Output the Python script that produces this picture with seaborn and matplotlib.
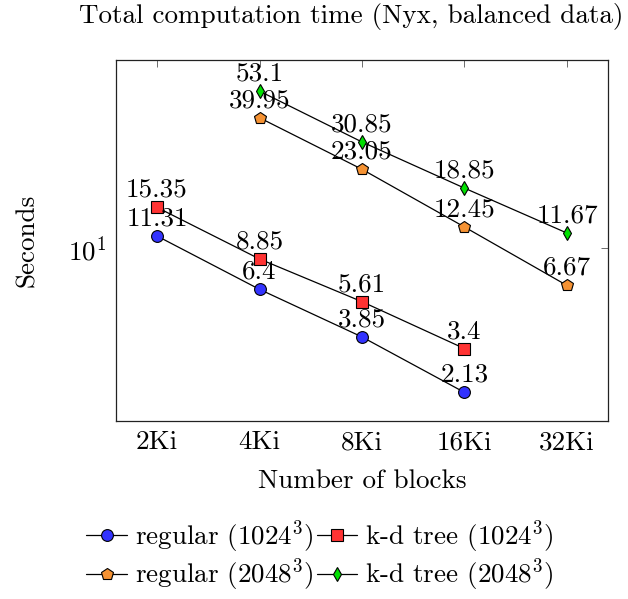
import matplotlib
matplotlib.use("Agg")
import matplotlib.pyplot as plt
import matplotlib.ticker as mticker
import seaborn as sns
import pandas as pd

categories = ["2Ki", "4Ki", "8Ki", "16Ki", "32Ki"]
reg1024_x = ["2Ki", "4Ki", "8Ki", "16Ki"]
reg1024 = [11.31, 6.4, 3.85, 2.13]
kd1024_x = ["2Ki", "4Ki", "8Ki", "16Ki"]
kd1024 = [15.35, 8.85, 5.61, 3.4]
reg2048_x = ["4Ki", "8Ki", "16Ki", "32Ki"]
reg2048 = [39.95, 23.05, 12.45, 6.67]
kd2048_x = ["4Ki", "8Ki", "16Ki", "32Ki"]
kd2048 = [53.1, 30.85, 18.85, 11.67]

series = [
    ("regular (1024$^3$)", reg1024_x, reg1024, "o", "#3333ff", 8.5),
    ("k-d tree (1024$^3$)", kd1024_x, kd1024, "s", "#ff3333", 8.5),
    ("regular (2048$^3$)", reg2048_x, reg2048, "p", "#f59233", 9),
    ("k-d tree (2048$^3$)", kd2048_x, kd2048, "d", "#00e000", 7.5),
]

FS = 19.5
sns.set_theme(style="white")
plt.rcParams.update({
    "font.family": "serif",
    "font.serif": ["cmr10", "DejaVu Serif"],
    "mathtext.fontset": "cm",
    "axes.formatter.use_mathtext": True,
    "axes.unicode_minus": False,
    "font.size": FS,
    "text.color": "black",
    "axes.labelcolor": "black",
    "xtick.color": "black",
    "ytick.color": "black",
})

fig = plt.figure(figsize=(6.28, 5.99), dpi=100)
ax = fig.add_axes([116/628, 1-421/599, 492/628, 361/599])

pos = {c: i for i, c in enumerate(categories)}
for name, xs, ys, mk, col, ms in series:
    df = pd.DataFrame({"x": [pos[c] for c in xs], "y": ys})
    sns.lineplot(data=df, x="x", y="y", ax=ax, color="black", lw=0.9,
                 marker=mk, markersize=ms, markerfacecolor=col,
                 markeredgecolor="black", markeredgewidth=0.8, label=name)
    for xv, yv in zip(df["x"], df["y"]):
        ax.annotate(f"{yv:g}", (xv, yv), xytext=(0, 4), textcoords="offset points",
                    ha="center", va="bottom", fontsize=FS)

ax.set_yscale("log")
ax.set_ylim(1.57, 74)
ax.set_xlim(-0.4, 4.4)
ax.set_xticks(range(len(categories)))
ax.set_xticklabels(categories)
ax.yaxis.set_major_locator(mticker.FixedLocator([10]))
ax.yaxis.set_major_formatter(mticker.FixedFormatter(["$10^1$"]))
ax.yaxis.set_minor_locator(mticker.NullLocator())
ax.tick_params(axis="both", which="major", direction="in", length=5, width=0.6,
               top=True, right=True, labelsize=FS, color="#555555", pad=7)
for s in ax.spines.values():
    s.set_linewidth(0.9)
    s.set_color("#222222")

fig.text(351/628, 1-17/599, "Total computation time (Nyx, balanced data)",
         ha="center", va="center", fontsize=FS)
ax.set_xlabel("Number of blocks", fontsize=FS, labelpad=11)
ax.set_ylabel("Seconds", fontsize=FS, labelpad=21)

h, l = ax.get_legend_handles_labels()
order = [0, 2, 1, 3]
leg = ax.legend([h[i] for i in order], [l[i] for i in order],
                loc="center", bbox_to_anchor=(320/628, 1-556/599),
                bbox_transform=fig.transFigure, ncol=2, frameon=False,
                fontsize=FS, handlelength=1.5, handletextpad=0.3,
                columnspacing=0.1, labelspacing=0.05, borderpad=0)

fig.savefig("out.png", dpi=100)
